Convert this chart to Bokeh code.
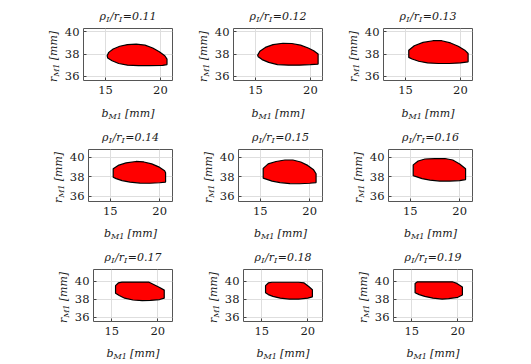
import math
from bokeh.plotting import figure
from bokeh.layouts import column, row
from bokeh.models import FixedTicker, Range1d
from bokeh.core.properties import value
from bokeh.embed import file_html
from bokeh.resources import INLINE

# ---------------- data ----------------
ratios = ["0.11", "0.12", "0.13", "0.14", "0.15", "0.16", "0.17", "0.18", "0.19"]
x_ticks = [15, 20]
y_ticks = [36, 38, 40]

b_011 = [15.15, 15.3, 15.7, 16.3, 17.0, 17.8, 18.6, 19.3, 19.9, 20.4, 20.6, 20.6, 20.2, 19.0, 18.0, 17.0, 16.2, 15.6, 15.2]
r_011 = [37.85, 38.15, 38.45, 38.7, 38.85, 38.9, 38.8, 38.55, 38.2, 37.85, 37.55, 37.05, 36.98, 36.95, 36.95, 37.0, 37.15, 37.4, 37.65]
b_012 = [15.2, 15.4, 15.9, 16.6, 17.5, 18.3, 19.1, 19.8, 20.3, 20.7, 20.7, 20.0, 19.0, 18.0, 17.0, 16.2, 15.6, 15.25]
r_012 = [37.9, 38.25, 38.6, 38.85, 38.97, 38.95, 38.8, 38.55, 38.3, 38.0, 37.1, 37.05, 37.0, 37.0, 37.05, 37.25, 37.5, 37.75]
b_013 = [15.3, 15.3, 15.8, 16.6, 17.5, 18.3, 19.1, 19.8, 20.4, 20.7, 20.7, 20.0, 19.0, 18.0, 17.0, 16.2, 15.6]
r_013 = [37.7, 38.35, 38.75, 39.05, 39.2, 39.2, 39.0, 38.7, 38.35, 38.05, 37.3, 37.2, 37.15, 37.15, 37.2, 37.35, 37.55]
b_014 = [15.3, 15.3, 15.8, 16.6, 17.6, 18.4, 19.2, 19.9, 20.5, 20.6, 20.6, 20.0, 19.0, 18.0, 17.0, 16.2, 15.6]
r_014 = [37.95, 38.8, 39.15, 39.4, 39.55, 39.5, 39.3, 39.0, 38.6, 38.4, 37.45, 37.38, 37.33, 37.35, 37.45, 37.6, 37.8]
b_015 = [15.3, 15.3, 15.8, 16.6, 17.5, 18.3, 19.1, 19.8, 20.4, 20.65, 20.65, 20.0, 19.0, 18.0, 17.0, 16.2, 15.6]
r_015 = [37.85, 38.85, 39.3, 39.55, 39.7, 39.7, 39.5, 39.15, 38.7, 38.3, 37.4, 37.33, 37.28, 37.3, 37.4, 37.55, 37.75]
b_016 = [15.3, 15.3, 15.8, 16.5, 17.5, 18.5, 19.3, 20.0, 20.6, 20.6, 20.0, 19.0, 18.0, 17.0, 16.2, 15.6]
r_016 = [38.1, 39.2, 39.6, 39.8, 39.85, 39.85, 39.7, 39.3, 38.8, 37.7, 37.6, 37.55, 37.55, 37.65, 37.8, 38.0]
b_017 = [15.4, 15.4, 15.7, 16.1, 17.0, 18.0, 19.0, 19.6, 20.2, 20.7, 20.7, 20.2, 19.2, 18.3, 17.3, 16.4, 15.8]
r_017 = [38.65, 39.5, 39.8, 39.9, 39.9, 39.9, 39.9, 39.6, 39.3, 39.0, 38.1, 37.95, 37.85, 37.82, 37.9, 38.1, 38.4]
b_018 = [15.4, 15.4, 15.7, 16.1, 17.0, 18.0, 19.0, 19.6, 20.1, 20.5, 20.5, 20.0, 19.0, 18.0, 17.0, 16.2, 15.7]
r_018 = [38.7, 39.5, 39.8, 39.88, 39.88, 39.88, 39.88, 39.8, 39.4, 39.05, 38.25, 38.1, 38.0, 38.0, 38.1, 38.3, 38.5]
b_019 = [15.35, 15.35, 15.6, 16.5, 17.5, 18.5, 19.4, 19.9, 20.5, 20.5, 20.0, 19.0, 18.3, 17.3, 16.4, 15.8]
r_019 = [38.7, 39.75, 39.93, 39.93, 39.93, 39.93, 39.93, 39.75, 39.35, 38.45, 38.2, 38.05, 38.0, 38.1, 38.3, 38.5]

shapes_b = [b_011, b_012, b_013, b_014, b_015, b_016, b_017, b_018, b_019]
shapes_r = [r_011, r_012, r_013, r_014, r_015, r_016, r_017, r_018, r_019]

# ---------------- layout config (pixels, page coordinates) ----------------
X_RANGES = [(13.0, 21.1), (12.8, 21.3), (13.0, 21.6)]
Y_RANGES = [(35.62, 40.3), (35.47, 40.77), (35.5, 41.3)]
FRAME_W = [89, 84, 79]
FRAME_H = 52
PAGE_X0 = 0
PAGE_X1 = 524
BOX_RIGHT = [172, 322, 472]
BOX_TOP = [28, 149, 269]
XSTRIP_END = [120, 240, 360]
TOP_GAP = 2
AXIS_L = 22
AXIS_B = 20
RIGHT_PAD = 3
TITLE_GAP = 12
XLABEL_GAP = [32.6, 32.2, 32.2]
YLABEL_GAP = 30.5

FONT = "DejaVu Serif"
MAIN = 11
SUB = 8
SUB_SHIFT = 3
WID = {'ρ': 0.62, 'I': 0.47, '/': 0.337, 'r': 0.478, '=': 0.838, '.': 0.318,
       'b': 0.64, 'M': 0.995, ' ': 0.318, '[': 0.39, ']': 0.39, 'm': 0.948}
TXT_COLOR = "#1a1a1a"


def tw(s, size):
    return sum(WID.get(c, 0.636) for c in s) * size


def strip(w, h):
    f = figure(frame_width=w, frame_height=h, x_range=Range1d(0, w), y_range=Range1d(0, h),
               output_backend="svg", toolbar_location=None,
               min_border_left=0, min_border_right=0, min_border_top=0, min_border_bottom=0,
               x_axis_location=None, y_axis_location=None, title=None)
    f.grid.visible = False
    f.outline_line_color = None
    f.background_fill_color = "white"
    f.border_fill_color = "white"
    return f


def rich(f, parts, cx, cy, vertical=False):
    """Draw (text, is_subscript) pieces in sequence, centred on cx (or cy when vertical)."""
    total = sum(tw(t, SUB if s else MAIN) for t, s in parts)
    pos = -total / 2.0
    for t, s in parts:
        size = SUB if s else MAIN
        shift = SUB_SHIFT if s else 0
        if t.strip():
            if not vertical:
                x, y, ang = cx + pos, cy - shift, 0.0
            else:
                x, y, ang = cx + shift, cy + pos, math.pi / 2
            f.text(x=[x], y=[y], text=[t], angle=ang,
                   text_font=value(FONT), text_font_style="italic",
                   text_font_size=f"{size}px", text_color=TXT_COLOR,
                   text_align="left", text_baseline="alphabetic")
        pos += tw(t, size)


children = []
prev_bottom = 0
for ri in range(3):
    xr = X_RANGES[ri]
    yr = Y_RANGES[ri]
    fw = FRAME_W[ri]
    box_left = [BOX_RIGHT[ci] - fw for ci in range(3)]
    centers = [BOX_RIGHT[ci] - fw / 2.0 for ci in range(3)]
    box_top = BOX_TOP[ri]
    box_bottom = box_top + FRAME_H

    # title strip
    ts_bot = box_top - TOP_GAP
    th = ts_bot - prev_bottom
    tstrip = strip(PAGE_X1 - PAGE_X0, th)
    t_base = ts_bot - (box_top - TITLE_GAP)
    for ci in range(3):
        k = ri * 3 + ci
        rich(tstrip, [("ρ", False), ("I", True), ("/r", False), ("I", True), ("=" + ratios[k], False)],
             centers[ci] - PAGE_X0, t_base)
    children.append(tstrip)

    # main row: y-label strip + plot for each column
    items = []
    prev_end = PAGE_X0
    main_h = TOP_GAP + FRAME_H + AXIS_B
    for ci in range(3):
        k = ri * 3 + ci
        fig_left = box_left[ci] - AXIS_L
        ys = strip(fig_left - prev_end, main_h)
        base_x = (box_left[ci] - YLABEL_GAP) - prev_end
        ymid = AXIS_B + FRAME_H / 2.0
        rich(ys, [("r", False), ("M1", True), (" ", False), ("[mm]", False)], base_x, ymid, vertical=True)
        items.append(ys)

        fig_right = BOX_RIGHT[ci] + RIGHT_PAD if ci < 2 else PAGE_X1
        br = fig_right - BOX_RIGHT[ci]
        p = figure(frame_width=fw, frame_height=FRAME_H,
                   x_range=Range1d(*xr), y_range=Range1d(*yr),
                   output_backend="svg", toolbar_location=None, title=None,
                   min_border_left=AXIS_L, min_border_right=br,
                   min_border_top=TOP_GAP, min_border_bottom=AXIS_B)
        p.patch(shapes_b[k], shapes_r[k], fill_color="#ff0000", line_color="black", line_width=1.2)
        p.xaxis.ticker = FixedTicker(ticks=x_ticks)
        p.yaxis.ticker = FixedTicker(ticks=y_ticks)
        for ax in (p.xaxis, p.yaxis):
            ax.axis_line_color = None
            ax.major_tick_in = 3
            ax.major_tick_out = 0
            ax.major_tick_line_color = "#444444"
            ax.minor_tick_line_color = None
            ax.major_label_text_font = FONT
            ax.major_label_text_font_size = "11.5px"
            ax.major_label_text_color = TXT_COLOR
        p.xaxis.major_label_standoff = 5
        p.yaxis.major_label_standoff = 4
        p.grid.grid_line_color = "#dedede"
        p.outline_line_color = "#555555"
        p.outline_line_width = 1
        p.background_fill_color = "white"
        p.border_fill_color = "white"
        items.append(p)
        prev_end = fig_right
    children.append(row(*items))

    # x-label strip
    xs_top = box_bottom + AXIS_B
    xs_bot = XSTRIP_END[ri]
    xh = xs_bot - xs_top
    xstrip = strip(PAGE_X1 - PAGE_X0, xh)
    base_y = xs_bot - (box_bottom + XLABEL_GAP[ri])
    for ci in range(3):
        rich(xstrip, [("b", False), ("M1", True), (" ", False), ("[mm]", False)],
             centers[ci] - PAGE_X0, base_y)
    children.append(xstrip)
    prev_bottom = xs_bot

layout = column(*children)
open("out.html", "w").write(file_html(layout, INLINE))
